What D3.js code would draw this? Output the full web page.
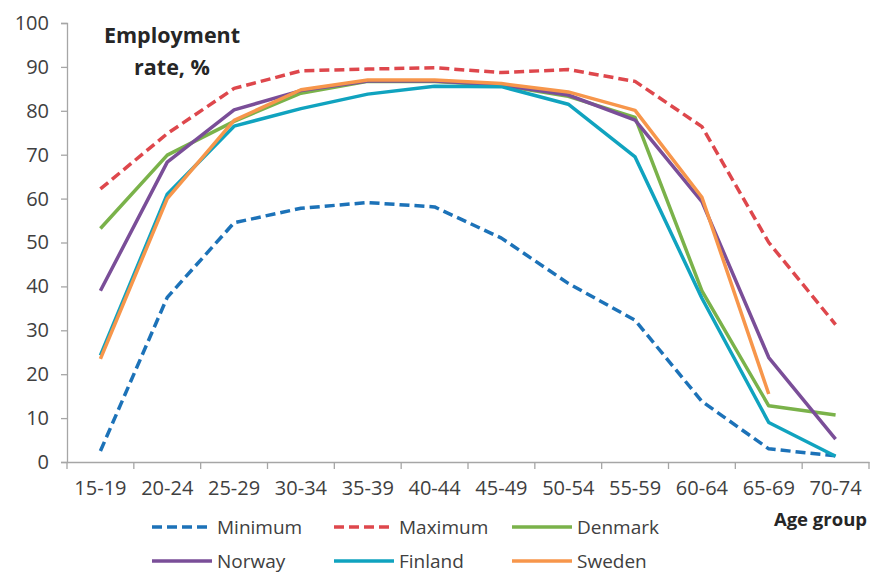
<!DOCTYPE html>
<html>
<head>
<meta charset="utf-8">
<script src="https://cdn.jsdelivr.net/npm/d3@7"></script>
<style>
  body { margin: 0; background: #fff; }
  text { font-family: "Open Sans", sans-serif; fill: #404040; }
</style>
</head>
<body>
<script>
const w = 871;
const h = 575;

// age groups on the x axis
const ageGroups = ["15-19", "20-24", "25-29", "30-34", "35-39", "40-44",
                   "45-49", "50-54", "55-59", "60-64", "65-69", "70-74"];
const yTicks = [0, 10, 20, 30, 40, 50, 60, 70, 80, 90, 100];

// employment rate, %
const minimum = [2.5, 37.5, 54.5, 57.8, 59.1, 58.1, 51.0, 40.7, 32.3, 13.8, 3.0, 1.4];
const maximum = [62.2, 74.8, 85.1, 89.1, 89.5, 89.8, 88.7, 89.4, 86.7, 76.4, 50.0, 31.3];
const denmark = [53.2, 69.9, 77.6, 84.0, 86.7, 86.7, 85.8, 83.3, 78.5, 39.0, 12.8, 10.7];
const norway  = [39.0, 68.3, 80.2, 84.6, 86.8, 86.8, 85.9, 83.6, 77.9, 59.3, 23.8, 5.2];
const finland = [24.3, 61.0, 76.5, 80.5, 83.8, 85.6, 85.5, 81.5, 69.5, 37.3, 9.0, 1.3];
const sweden  = [23.5, 60.0, 77.8, 84.8, 87.0, 87.0, 86.2, 84.3, 80.1, 60.3, 15.5, null];

const series = [
    {name: "Minimum", values: minimum, color: "#1c72b8", dash: "10,5"},
    {name: "Maximum", values: maximum, color: "#de474c", dash: "10,5"},
    {name: "Denmark", values: denmark, color: "#7ab24a", dash: null},
    {name: "Norway",  values: norway,  color: "#7a4e98", dash: null},
    {name: "Finland", values: finland, color: "#10a3bf", dash: null},
    {name: "Sweden",  values: sweden,  color: "#f7964b", dash: null}
];

let svg = d3.select("body")
    .append("svg")
    .attr("width", w)
    .attr("height", h);

let x = d3.scaleBand()
    .domain(ageGroups)
    .range([67, 869]);

let y = d3.scaleLinear()
    .domain([0, 100])
    .range([462, 23]);

// y axis
let yAxis = svg.append("g")
    .attr("transform", "translate(67,0)")
    .call(d3.axisLeft(y).tickValues(yTicks).tickSizeOuter(0).tickSize(6).tickPadding(12));
yAxis.selectAll("text").style("font-size", "20px");

// x axis: labels centred in bands, tick marks on band edges
let xAxis = svg.append("g")
    .attr("transform", "translate(0,462)")
    .call(d3.axisBottom(x).tickSize(0).tickSizeOuter(0).tickPadding(19));
xAxis.selectAll("text").style("font-size", "20px");

xAxis.selectAll("line.edge")
    .data(ageGroups.concat(["end"]))
    .enter()
    .append("line")
    .attr("class", "edge")
    .attr("x1", (d) => d === "end" ? x.range()[1] : x(d))
    .attr("x2", (d) => d === "end" ? x.range()[1] : x(d))
    .attr("y1", 0)
    .attr("y2", 7);

svg.selectAll(".domain, .tick line, line.edge")
    .attr("stroke", "#a6a6a6")
    .attr("stroke-width", 1.3);

// lines
let line = d3.line()
    .defined((d) => d !== null)
    .x((d, i) => x(ageGroups[i]) + x.bandwidth() / 2)
    .y((d) => y(d));

svg.selectAll("path.series")
    .data(series)
    .enter()
    .append("path")
    .attr("class", "series")
    .attr("fill", "none")
    .attr("stroke", (d) => d.color)
    .attr("stroke-width", 3.5)
    .attr("stroke-linejoin", "round")
    .attr("stroke-dasharray", (d) => d.dash)
    .attr("d", (d) => line(d.values));

// title
let title = svg.append("text")
    .attr("x", 172)
    .attr("y", 43)
    .attr("text-anchor", "middle")
    .style("font-size", "21.5px")
    .style("font-weight", "bold")
    .style("fill", "#262626");
title.append("tspan").attr("x", 172).text("Employment");
title.append("tspan").attr("x", 172).attr("y", 75).text("rate, %");

svg.append("text")
    .attr("x", 867)
    .attr("y", 526)
    .attr("text-anchor", "end")
    .style("font-size", "18.5px")
    .style("font-weight", "bold")
    .style("fill", "#262626")
    .text("Age group");

// legend, 3 per row
let legend = svg.selectAll("g.legend")
    .data(series)
    .enter()
    .append("g")
    .attr("class", "legend")
    .attr("transform", (d, i) => "translate(" + [152, 334, 512][i % 3] + "," + (i < 3 ? 527 : 561) + ")");

legend.append("line")
    .attr("x1", 0)
    .attr("x2", 60)
    .attr("stroke", (d) => d.color)
    .attr("stroke-width", 3.5)
    .attr("stroke-dasharray", (d) => d.dash);

legend.append("text")
    .attr("x", 65)
    .attr("dy", "0.35em")
    .style("font-size", "19px")
    .text((d) => d.name);
</script>
</body>
</html>
